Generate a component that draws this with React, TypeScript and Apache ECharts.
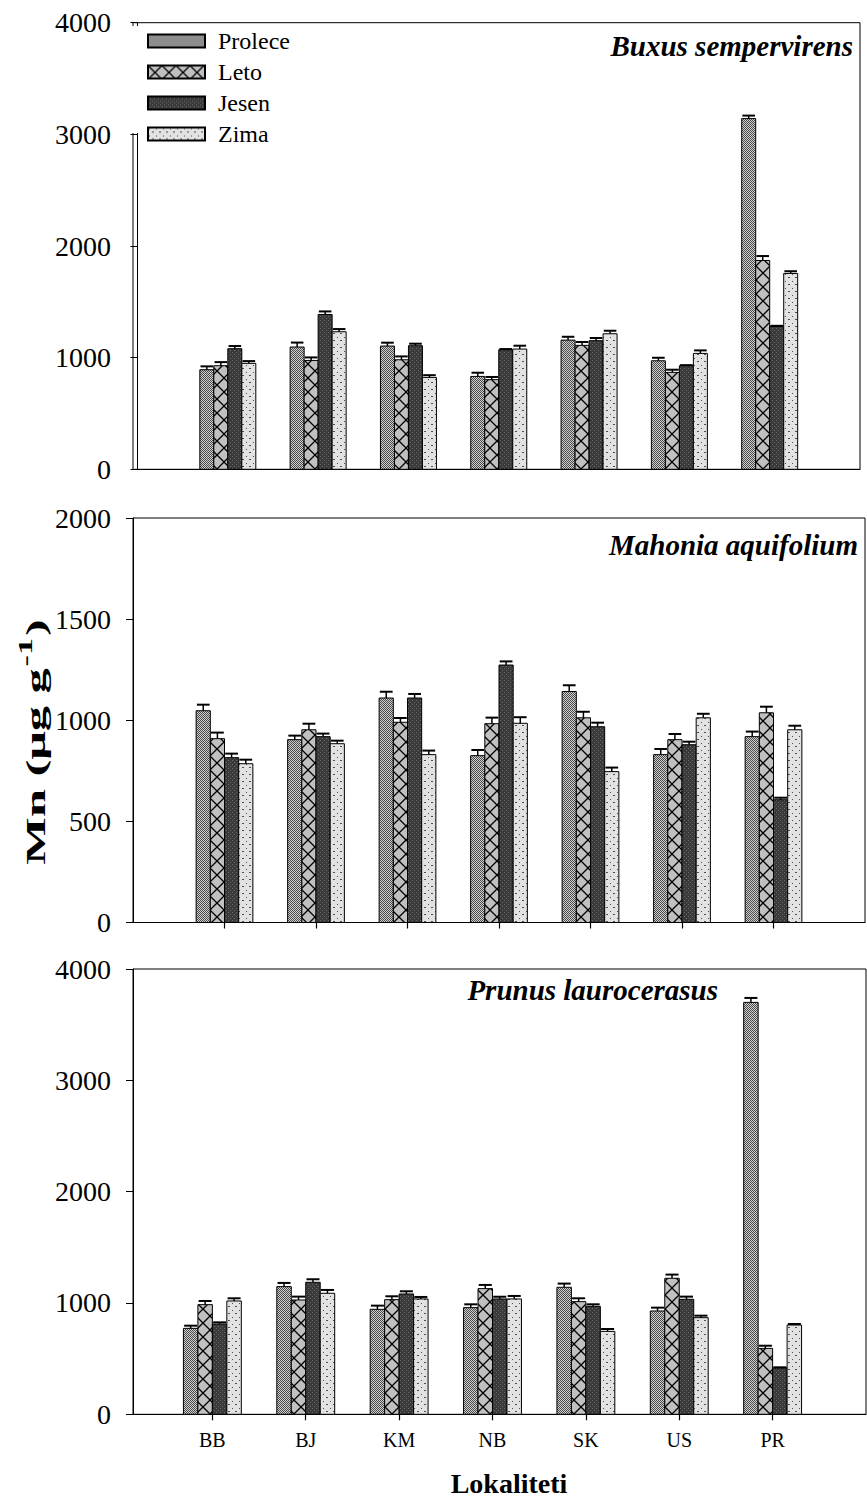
import React, { useEffect, useRef } from "react";
import * as echarts from "echarts";

const sites = ["BB", "BJ", "KM", "NB", "SK", "US", "PR"];
const seasons = ["Prolece", "Leto", "Jesen", "Zima"];

// Buxus sempervirens — mean Mn and error per site
const buxusProlece = [892, 1095, 1104, 832, 1157, 972, 3141];
const buxusLeto = [928, 975, 981, 803, 1110, 868, 1870];
const buxusJesen = [1080, 1387, 1107, 1071, 1152, 928, 1280];
const buxusZima = [949, 1232, 823, 1077, 1214, 1038, 1754];
const buxusProleceErr = [30, 40, 30, 33, 30, 27, 27];
const buxusLetoErr = [32, 27, 30, 24, 30, 24, 40];
const buxusJesenErr = [24, 27, 18, 6, 24, 5, 5];
const buxusZimaErr = [20, 24, 20, 30, 27, 27, 20];

// Mahonia aquifolium
const mahoniaProlece = [1047, 904, 1110, 825, 1142, 830, 919];
const mahoniaLeto = [909, 953, 990, 983, 1012, 904, 1037];
const mahoniaJesen = [815, 919, 1110, 1273, 968, 879, 607];
const mahoniaZima = [785, 884, 830, 985, 746, 1012, 953];
const mahoniaProleceErr = [30, 20, 31, 28, 31, 28, 25];
const mahoniaLetoErr = [30, 30, 21, 30, 30, 28, 30];
const mahoniaJesenErr = [20, 15, 20, 18, 20, 15, 10];
const mahoniaZimaErr = [20, 15, 20, 30, 20, 20, 20];

// Prunus laurocerasus
const prunusProlece = [772, 1147, 943, 958, 1141, 928, 3700];
const prunusLeto = [985, 1027, 1030, 1129, 1012, 1222, 592];
const prunusJesen = [811, 1186, 1081, 1036, 970, 1033, 417];
const prunusZima = [1018, 1087, 1036, 1036, 745, 868, 802];
const prunusProleceErr = [24, 33, 33, 30, 33, 30, 40];
const prunusLetoErr = [33, 30, 30, 33, 30, 33, 24];
const prunusJesenErr = [15, 27, 24, 20, 18, 24, 5];
const prunusZimaErr = [24, 30, 18, 27, 21, 18, 9];

const wideTicks = [0, 1000, 2000, 3000, 4000];
const narrowTicks = [0, 500, 1000, 1500, 2000];

const FONT = "Liberation Serif";
const BAR = 0.155; // width of one bar in category units

type Tile = { canvas: HTMLCanvasElement; w: number; h: number };

function makeTile(kind: number): Tile {
  const c = document.createElement("canvas");
  let w = 4;
  let h = 4;
  if (kind === 1) {
    w = 14;
    h = 14;
  } else if (kind === 3) {
    w = 7;
    h = 7;
  }
  c.width = w;
  c.height = h;
  const g = c.getContext("2d")!;
  if (kind === 0) {
    // fine checker, mid grey
    g.fillStyle = "#d0d0d0";
    g.fillRect(0, 0, w, h);
    g.fillStyle = "#4a4a4a";
    for (let y = 0; y < h; y++)
      for (let x = 0; x < w; x++) if ((x + y) % 2 === 0) g.fillRect(x, y, 1, 1);
  } else if (kind === 1) {
    // light grey with a cross
    g.fillStyle = "#c0c0c0";
    g.fillRect(0, 0, w, h);
    g.strokeStyle = "#000";
    g.lineWidth = 1.3;
    g.beginPath();
    g.moveTo(0, 0);
    g.lineTo(w, h);
    g.moveTo(w, 0);
    g.lineTo(0, h);
    g.stroke();
  } else if (kind === 2) {
    // dark grey with faint texture
    g.fillStyle = "#3a3a3a";
    g.fillRect(0, 0, w, h);
    g.fillStyle = "#6a6a6a";
    g.fillRect(0, 0, 1, 1);
    g.fillRect(2, 2, 1, 1);
  } else {
    // pale grey with sparse dots
    g.fillStyle = "#e2e2e2";
    g.fillRect(0, 0, w, h);
    g.fillStyle = "#505050";
    g.fillRect(1, 1, 1, 1);
    g.fillRect(4, 4, 2, 1);
  }
  return { canvas: c, w, h };
}

function patternOf(t: Tile, x = 0, y = 0, sx = 1) {
  return {
    image: t.canvas,
    repeat: "repeat",
    imageWidth: t.w,
    imageHeight: t.h,
    x,
    y,
    scaleX: sx,
  } as any;
}

type Panel = {
  top: number;
  height: number;
  left: number;
  right: number;
  xMin: number;
  yMax: number;
  yTicks: number[];
  ticks: boolean;
  labels: boolean;
  values: number[][];
  errors: number[][];
};

const panels: Panel[] = [
  {
    top: 22.7,
    height: 446.6,
    left: 133,
    right: 7,
    xMin: -0.05,
    yMax: 4000,
    yTicks: wideTicks,
    ticks: false,
    labels: false,
    values: [buxusProlece, buxusLeto, buxusJesen, buxusZima],
    errors: [buxusProleceErr, buxusLetoErr, buxusJesenErr, buxusZimaErr],
  },
  {
    top: 518,
    height: 404.5,
    left: 133,
    right: 2,
    xMin: 0,
    yMax: 2000,
    yTicks: narrowTicks,
    ticks: true,
    labels: false,
    values: [mahoniaProlece, mahoniaLeto, mahoniaJesen, mahoniaZima],
    errors: [mahoniaProleceErr, mahoniaLetoErr, mahoniaJesenErr, mahoniaZimaErr],
  },
  {
    top: 969,
    height: 445.3,
    left: 133,
    right: 1,
    xMin: 0.15,
    yMax: 4000,
    yTicks: wideTicks,
    ticks: true,
    labels: true,
    values: [prunusProlece, prunusLeto, prunusJesen, prunusZima],
    errors: [prunusProleceErr, prunusLetoErr, prunusJesenErr, prunusZimaErr],
  },
];

export default function App() {
  const ref = useRef<HTMLDivElement>(null);

  useEffect(() => {
    document.body.style.margin = "0";
    const chart = echarts.init(ref.current!, null, { renderer: "svg" });
    const tiles = [0, 1, 2, 3].map(makeTile);
    const siteIdx = sites.map((_, i) => i + 1);

    const grid = panels.map((p) => ({
      left: p.left,
      right: p.right,
      top: p.top,
      height: p.height,
      show: true,
      borderColor: "#000",
      borderWidth: 1,
      backgroundColor: "transparent",
    }));

    const xAxis = panels.map((p, i) => ({
      type: "value",
      gridIndex: i,
      min: p.xMin,
      max: 8,
      splitLine: { show: false },
      axisLine: { lineStyle: { color: "#000", width: 1 } },
      axisTick: {
        show: p.ticks,
        customValues: siteIdx,
        inside: false,
        length: 6,
        lineStyle: { color: "#000", width: 1.2 },
      },
      axisLabel: {
        show: p.labels,
        customValues: siteIdx,
        formatter: (v: number) => sites[Math.round(v) - 1] ?? "",
        margin: 16,
        color: "#000",
        fontFamily: FONT,
        fontSize: 20,
      },
    }));

    const yAxis = panels.map((p, i) => ({
      type: "value",
      gridIndex: i,
      min: 0,
      max: p.yMax,
      interval: p.yTicks[1],
      splitLine: { show: false },
      axisLine: { show: true, lineStyle: { color: "#000", width: 1 } },
      axisTick: { show: true, length: 7, lineStyle: { color: "#000", width: 1 } },
      axisLabel: {
        margin: 22,
        color: "#000",
        fontFamily: FONT,
        fontSize: 28,
        formatter: (v: number) => String(v),
      },
    }));

    const series: any[] = [];
    panels.forEach((p, pi) => {
      seasons.forEach((name, k) => {
        const tile = tiles[k];
        series.push({
          type: "custom",
          name,
          xAxisIndex: pi,
          yAxisIndex: pi,
          itemStyle: { color: patternOf(tile), borderColor: "#000", borderWidth: 1 },
          data: sites.map((_, j) => [j + 1, p.values[k][j], p.errors[k][j]]),
          renderItem: (_params: any, api: any) => {
            const x = api.value(0) + (k - 1.5) * BAR;
            const v = api.value(1);
            const e = api.value(2);
            const tl = api.coord([x - BAR / 2, v]);
            const br = api.coord([x + BAR / 2, 0]);
            const cap = api.coord([x, v + e]);
            const w = br[0] - tl[0];
            const h = br[1] - tl[1];
            const mid = tl[0] + w / 2;
            const fill = k === 1 ? patternOf(tile, tl[0], tl[1], w / tile.w) : patternOf(tile);
            return {
              type: "group",
              children: [
                {
                  type: "rect",
                  shape: { x: tl[0], y: tl[1], width: w, height: h },
                  style: { fill, stroke: "#000", lineWidth: 1 },
                },
                {
                  type: "line",
                  shape: { x1: mid, y1: tl[1], x2: mid, y2: cap[1] },
                  style: { stroke: "#000", lineWidth: 1.5 },
                },
                {
                  type: "line",
                  shape: { x1: mid - w * 0.45, y1: cap[1], x2: mid + w * 0.45, y2: cap[1] },
                  style: { stroke: "#000", lineWidth: 2 },
                },
              ],
            };
          },
        });
      });
    });

    const titleStyle = {
      fontFamily: FONT,
      fontSize: 29,
      fontWeight: "bold",
      fontStyle: "italic",
      fill: "#000",
    };

    chart.setOption({
      animation: false,
      grid,
      xAxis,
      yAxis,
      series,
      legend: {
        data: seasons,
        orient: "vertical",
        left: 142,
        top: 24,
        itemWidth: 57,
        itemHeight: 13,
        itemGap: 7,
        icon: "rect",
        selectedMode: false,
        textStyle: {
          fontFamily: FONT,
          fontSize: 24,
          color: "#000",
          padding: [0, 0, 0, 8],
        },
      },
      graphic: [
        {
          type: "rect",
          z: 3,
          shape: { x: 131.5, y: 26, width: 181.5, height: 107 },
          style: { fill: "#fff" },
        },
        {
          type: "text",
          z: 5,
          x: 853,
          y: 46,
          style: { ...titleStyle, text: "Buxus sempervirens", align: "right", verticalAlign: "middle" },
        },
        {
          type: "text",
          z: 5,
          x: 858,
          y: 545,
          style: { ...titleStyle, text: "Mahonia aquifolium", align: "right", verticalAlign: "middle" },
        },
        {
          type: "text",
          z: 5,
          x: 718,
          y: 990,
          style: { ...titleStyle, text: "Prunus laurocerasus", align: "right", verticalAlign: "middle" },
        },
        {
          type: "text",
          z: 5,
          x: 509,
          y: 1483,
          style: {
            text: "Lokaliteti",
            fontFamily: FONT,
            fontSize: 28,
            fontWeight: "bold",
            fill: "#000",
            align: "center",
            verticalAlign: "middle",
          },
        },
        {
          // axis title, drawn upright and stretched along its reading direction
          type: "text",
          z: 5,
          x: 33,
          y: 742,
          rotation: Math.PI / 2,
          scaleX: 1.8,
          style: {
            text: "{a|Mn (μg g}{s|-1}{a|)}",
            align: "center",
            verticalAlign: "middle",
            fill: "#000",
            rich: {
              a: { fontFamily: FONT, fontSize: 28, fontWeight: "bold", lineHeight: 34, verticalAlign: "bottom" },
              s: { fontFamily: FONT, fontSize: 19, fontWeight: "bold", lineHeight: 34, verticalAlign: "top", padding: [0, 1, 11, 1] },
            },
          },
        },
      ],
    });

    return () => chart.dispose();
  }, []);

  return <div ref={ref} style={{ width: 867, height: 1497 }} />;
}
